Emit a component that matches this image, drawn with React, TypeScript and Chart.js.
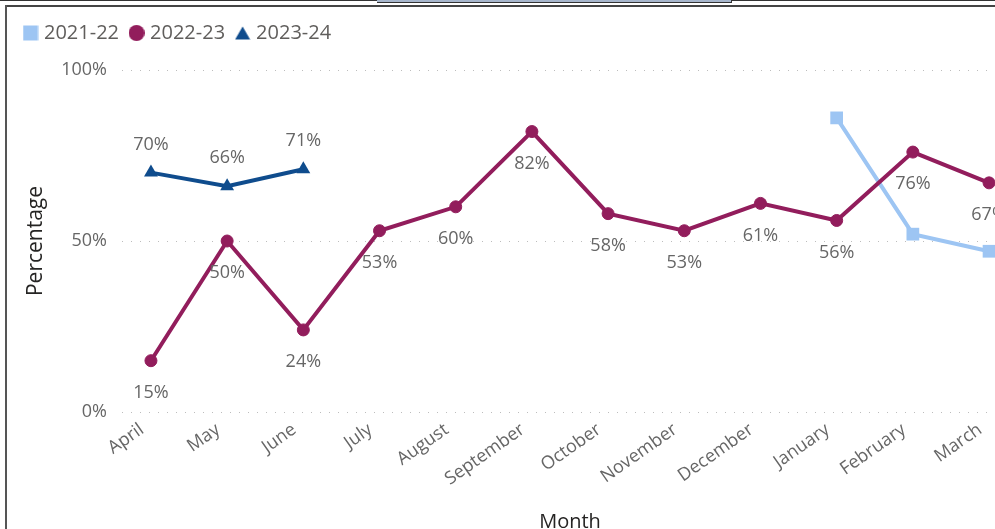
import React, { useEffect, useRef } from 'react';
import { Chart, registerables } from 'chart.js';

Chart.register(...registerables);

const MONTHS = ['April', 'May', 'June', 'July', 'August', 'September', 'October', 'November', 'December', 'January', 'February', 'March'];
const SERIES_NAMES = ['2021-22', '2022-23', '2023-24'];
const VALUES_2021_22: (number | null)[] = [null, null, null, null, null, null, null, null, null, 86, 52, 47];
const VALUES_2022_23: (number | null)[] = [15, 50, 24, 53, 60, 82, 58, 53, 61, 56, 76, 67];
const VALUES_2023_24: (number | null)[] = [70, 66, 71, null, null, null, null, null, null, null, null, null];
const Y_TICKS = [0, 50, 100];
const X_TITLE = 'Month';
const Y_TITLE = 'Percentage';

const LIGHT_BLUE = '#9DC5F3';
const MAROON = '#921D5C';
const DARK_BLUE = '#0F4C8D';
const TICK_COLOR = '#666666';
const TITLE_COLOR = '#252423';
const FONT = '"Open Sans", "Noto Sans", sans-serif';

function toPoints(values: (number | null)[]) {
  return values
    .map((v, i) => (v === null ? null : { x: i, y: v }))
    .filter((p) => p !== null) as { x: number; y: number }[];
}

function makeMarker(kind: string, color: string): HTMLCanvasElement {
  const c = document.createElement('canvas');
  c.width = 16;
  c.height = 16;
  const g = c.getContext('2d')!;
  g.fillStyle = color;
  if (kind === 'rect') {
    g.fillRect(0.5, 0.5, 15, 15);
  } else if (kind === 'circle') {
    g.beginPath();
    g.arc(8, 8, 8, 0, Math.PI * 2);
    g.fill();
  } else {
    g.beginPath();
    g.moveTo(8, 1.5);
    g.lineTo(15.5, 14.5);
    g.lineTo(0.5, 14.5);
    g.closePath();
    g.fill();
  }
  return c;
}

const LABEL_OFFSETS: (number | null)[] = [null, 32, -28];

const valueLabelPlugin = {
  id: 'valueLabels',
  afterDatasetsDraw(chart: any) {
    const ctx = chart.ctx;
    ctx.save();
    ctx.font = `18px ${FONT}`;
    ctx.fillStyle = TICK_COLOR;
    ctx.textAlign = 'center';
    ctx.textBaseline = 'middle';
    chart.data.datasets.forEach((ds: any, di: number) => {
      const off = LABEL_OFFSETS[di];
      if (off === null) return;
      const meta = chart.getDatasetMeta(di);
      meta.data.forEach((el: any, i: number) => {
        const p = ds.data[i];
        if (!p) return;
        ctx.fillText(`${p.y}%`, el.x, el.y + off);
      });
    });
    ctx.restore();
  },
};

export default function App() {
  const ref = useRef<HTMLCanvasElement>(null);

  useEffect(() => {
    if (!ref.current) return;
    const markers = [
      makeMarker('rect', LIGHT_BLUE),
      makeMarker('circle', MAROON),
      makeMarker('triangle', DARK_BLUE),
    ];
    const chart = new Chart(ref.current, {
      type: 'line',
      data: {
        datasets: [
          {
            label: SERIES_NAMES[0],
            data: toPoints(VALUES_2021_22),
            borderColor: LIGHT_BLUE,
            backgroundColor: LIGHT_BLUE,
            pointBackgroundColor: LIGHT_BLUE,
            pointBorderColor: LIGHT_BLUE,
            borderWidth: 4,
            pointStyle: 'rect',
            pointRadius: 9,
            pointBorderWidth: 0,
            tension: 0,
            order: 1,
          },
          {
            label: SERIES_NAMES[1],
            data: toPoints(VALUES_2022_23),
            borderColor: MAROON,
            backgroundColor: MAROON,
            pointBackgroundColor: MAROON,
            pointBorderColor: MAROON,
            borderWidth: 4,
            pointStyle: 'circle',
            pointRadius: 6,
            pointBorderWidth: 1,
            tension: 0,
            order: 0,
          },
          {
            label: SERIES_NAMES[2],
            data: toPoints(VALUES_2023_24),
            borderColor: DARK_BLUE,
            backgroundColor: DARK_BLUE,
            pointBackgroundColor: DARK_BLUE,
            pointBorderColor: DARK_BLUE,
            borderWidth: 4,
            pointStyle: 'triangle',
            pointRadius: 8,
            pointBorderWidth: 0,
            tension: 0,
            order: 2,
          },
        ],
      },
      options: {
        responsive: false,
        maintainAspectRatio: false,
        animation: false,
        events: [],
        layout: { padding: { top: 2, left: 6, right: 19, bottom: 0 } },
        plugins: {
          tooltip: { enabled: false },
          legend: {
            position: 'top',
            align: 'start',
            labels: {
              usePointStyle: true,
              pointStyleWidth: 7,
              padding: 14,
              color: '#605E5C',
              font: { family: FONT, size: 20 },
              generateLabels: (c: any) => {
                const items = (Chart.defaults.plugins.legend.labels as any).generateLabels(c);
                items.sort((a: any, b: any) => a.datasetIndex - b.datasetIndex);
                items.forEach((it: any) => {
                  it.pointStyle = markers[it.datasetIndex];
                });
                return items;
              },
            },
          },
          title: {
            display: true,
            text: ' ',
            weight: 0,
            font: { size: 1, lineHeight: 1 },
            padding: { top: 16, bottom: 0 },
          } as any,
        },
        scales: {
          x: {
            type: 'linear',
            min: -0.38,
            max: 11.38,
            grid: { display: false },
            border: { display: false },
            afterBuildTicks: (scale: any) => {
              scale.ticks = MONTHS.map((_, i) => ({ value: i }));
            },
            afterFit: (scale: any) => {
              scale.height = 135;
            },
            ticks: {
              autoSkip: false,
              minRotation: 35,
              maxRotation: 35,
              padding: -1,
              labelOffset: -9,
              color: TICK_COLOR,
              font: { family: FONT, size: 18 },
              callback: (v: any) => MONTHS[v as number],
            },
            title: {
              display: true,
              text: X_TITLE,
              color: TITLE_COLOR,
              font: { family: FONT, size: 20 },
              padding: { top: 0, bottom: 13 },
            },
          },
          y: {
            min: 0,
            max: 100,
            afterBuildTicks: (scale: any) => {
              scale.ticks = Y_TICKS.map((v) => ({ value: v }));
            },
            afterFit: (scale: any) => {
              scale.width = 109;
            },
            grid: { color: '#BDBDBD', lineWidth: 1, drawTicks: false },
            border: { display: false, dash: [1, 8] },
            ticks: {
              padding: 15,
              color: TICK_COLOR,
              font: { family: FONT, size: 18 },
              callback: (v: any) => `${v}%`,
            },
            title: {
              display: true,
              text: Y_TITLE,
              color: TITLE_COLOR,
              font: { family: FONT, size: 21 },
              padding: { top: 10, bottom: 0 },
            },
          },
        },
      },
      plugins: [valueLabelPlugin],
    } as any);
    return () => chart.destroy();
  }, []);

  return (
    <div style={{ position: 'fixed', left: 0, top: 0, width: 995, height: 529, overflow: 'hidden', background: '#ffffff' }}>
      <canvas ref={ref} width={1030} height={540} style={{ position: 'absolute', left: 7, top: 7, width: 1030, height: 540 }} />
      <div style={{ position: 'absolute', left: 0, top: 0, width: 995, height: 1, background: '#333333' }} />
      <div style={{ position: 'absolute', left: 377, top: 0, width: 354, height: 2, background: '#A7B6CC', borderBottom: '1px solid #333333', borderRight: '1px solid #333333' }} />
      <div style={{ position: 'absolute', left: 5, top: 5, width: 990, height: 2, background: '#444444' }} />
      <div style={{ position: 'absolute', left: 5, top: 5, width: 2, height: 524, background: '#555555' }} />
    </div>
  );
}
